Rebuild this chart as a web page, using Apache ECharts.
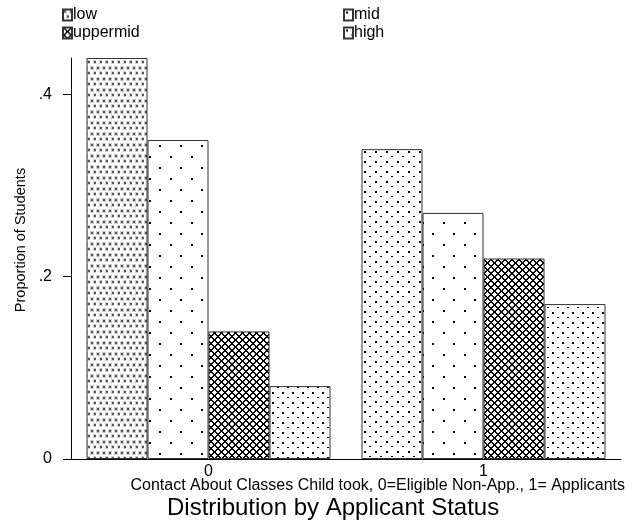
<!DOCTYPE html>
<html>
<head>
<meta charset="utf-8">
<script src="https://cdn.jsdelivr.net/npm/echarts@6/dist/echarts.min.js"></script>
<style>
  html, body { margin: 0; padding: 0; background: #fff; }
  #chart { width: 641px; height: 523px; }
</style>
</head>
<body>
<div id="chart"></div>
<script>
const categories = ['0', '1']
const seriesNames = ['low', 'mid', 'uppermid', 'high']
const lowVals = [0.44, 0.34]
const midVals = [0.35, 0.27]
const upperMidVals = [0.14, 0.22]
const highVals = [0.08, 0.17]
const yTicks = [0, 0.2, 0.4]

const FONT = 'Liberation Sans, Arial, sans-serif'

// small tiles drawn on canvas, used as repeated fills
function makeTile(w, h, draw) {
  const c = document.createElement('canvas')
  c.width = w
  c.height = h
  const ctx = c.getContext('2d')
  ctx.fillStyle = '#fff'
  ctx.fillRect(0, 0, w, h)
  draw(ctx)
  return { image: c, repeat: 'repeat' }
}

const lowGray = makeTile(6, 11, ctx => {
  ctx.fillStyle = '#ccc'
  ctx.fillRect(0, 0, 4, 4)
  ctx.fillRect(3, 5, 3, 4)
  ctx.fillStyle = '#555'
  ctx.fillRect(1, 1, 2, 2)
  ctx.fillRect(4, 6, 2, 2)
})

const lowBlack = makeTile(11, 10, ctx => {
  ctx.fillStyle = '#000'
  ctx.fillRect(1, 1, 2, 2)
  ctx.fillRect(6, 6, 2, 1)
})

const midFill = makeTile(21, 22, ctx => {
  ctx.fillStyle = '#000'
  ctx.fillRect(2, 2, 2, 2)
  ctx.fillRect(12, 13, 2, 2)
})

const upperFill = makeTile(7, 7, ctx => {
  ctx.fillStyle = '#000'
  for (let x = 0; x < 7; x++) {
    for (let y = 0; y < 7; y++) {
      if ((x + y) % 7 < 2 || (x - y + 14) % 7 < 2) ctx.fillRect(x, y, 1, 1)
    }
  }
})

const highFill = makeTile(10, 10, ctx => {
  ctx.fillStyle = '#000'
  ctx.fillRect(2, 2, 2, 2)
  ctx.fillRect(7, 7, 2, 1)
})

const fills = [lowGray, midFill, upperFill, highFill]
const values = [lowVals, midVals, upperMidVals, highVals]

const chart = echarts.init(document.getElementById('chart'), null, { renderer: 'canvas' })

const series = seriesNames.map((name, i) => ({
  name: name,
  type: 'bar',
  barWidth: 61,
  barGap: '0%',
  itemStyle: { color: fills[i], borderColor: '#333', borderWidth: 1 },
  data: values[i].map((v, j) => {
    // the low bar in the second group is rendered with black dots in the source
    if (i === 0 && j === 1) return { value: v, itemStyle: { color: lowBlack } }
    return v
  })
}))

const legendCommon = {
  orient: 'vertical',
  itemWidth: 9,
  itemHeight: 11,
  itemGap: 2,
  icon: 'rect',
  textStyle: { fontFamily: FONT, fontSize: 16, lineHeight: 14, color: '#000', padding: [0, 0, 0, -4] },
  padding: 0
}

chart.setOption({
  animation: false,
  backgroundColor: '#fff',
  grid: { left: 71, right: 20, top: 58, bottom: 64 },
  legend: [
    Object.assign({ data: ['low', 'uppermid'], left: 62, top: 7 }, legendCommon),
    Object.assign({ data: ['mid', 'high'], left: 343, top: 7 }, legendCommon)
  ],
  xAxis: {
    type: 'category',
    data: categories,
    axisLine: { lineStyle: { color: '#000', width: 1 } },
    axisTick: { show: false },
    axisLabel: { fontFamily: FONT, fontSize: 16, color: '#000', margin: 5 }
  },
  yAxis: {
    type: 'value',
    min: 0,
    max: 0.44,
    splitLine: { show: false },
    axisLine: { show: true, lineStyle: { color: '#000', width: 1 } },
    axisTick: { show: true, length: 8, customValues: yTicks, lineStyle: { color: '#000' } },
    axisLabel: {
      fontFamily: FONT,
      fontSize: 16,
      color: '#000',
      margin: 19,
      customValues: yTicks,
      formatter: v => (v === 0 ? '0' : String(Math.round(v * 10) / 10).replace(/^0/, ''))
    }
  },
  graphic: [
    {
      type: 'text',
      x: 21,
      y: 240,
      rotation: Math.PI / 2,
      style: {
        text: 'Proportion of Students',
        font: '14.5px ' + FONT,
        fill: '#000',
        textAlign: 'center',
        textVerticalAlign: 'middle'
      }
    },
    {
      type: 'text',
      right: 16,
      top: 478,
      style: {
        text: 'Contact About Classes Child took, 0=Eligible Non-App., 1= Applicants',
        font: '16px ' + FONT,
        fill: '#000'
      }
    },
    {
      type: 'text',
      left: 167,
      top: 496,
      style: {
        text: 'Distribution by Applicant Status',
        font: '24px ' + FONT,
        fill: '#000'
      }
    }
  ],
  series: series
})
</script>
</body>
</html>
